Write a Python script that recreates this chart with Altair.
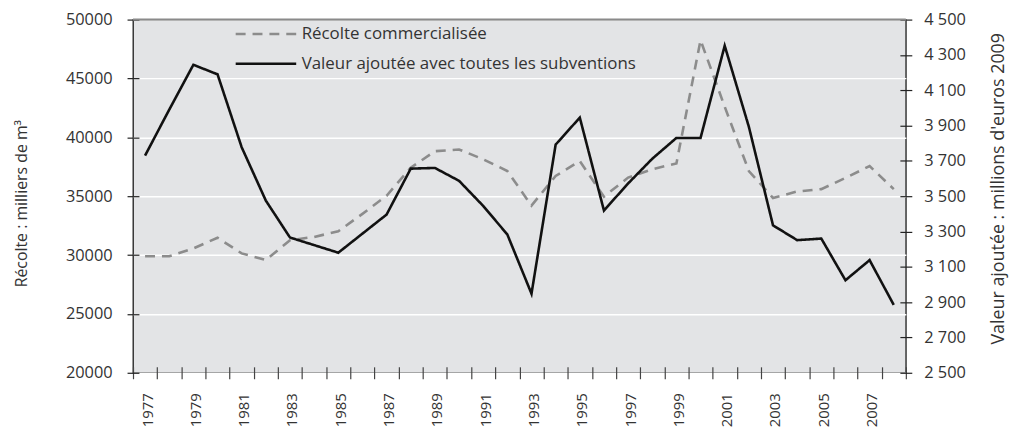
import altair as alt
import pandas as pd

years = list(range(1977, 2009))
recolte = [29900, 29900, 30560, 31470, 30140, 29580, 31260, 31540, 32020, 33500,
           35040, 37420, 38820, 38970, 38130, 37140, 34200, 36720, 37980, 34960,
           36580, 37290, 37780, 48250, 42600, 37140, 34850, 35400, 35600, 36550,
           37560, 35600]
valeur = [3730, 3990, 4244, 4190, 3777, 3475, 3266, 3223, 3180, 3288,
          3396, 3656, 3660, 3587, 3445, 3283, 2948, 3792, 3945, 3419,
          3572, 3712, 3830, 3830, 4352, 3893, 3335, 3251, 3260, 3024,
          3138, 2884]
series_names = ["Récolte commercialisée", "Valeur ajoutée avec toutes les subventions"]
left_ticks = [20000, 25000, 30000, 35000, 40000, 45000, 50000]
right_ticks = list(range(2500, 4501, 200))

df_recolte = pd.DataFrame({"annee": years, "v": recolte, "serie": series_names[0]})
df_valeur = pd.DataFrame({"annee": years, "v": valeur, "serie": series_names[1]})

FONT = "Open Sans"
W, H = 779, 356

color_scale = alt.Scale(domain=series_names, range=["#8c8c8c", "#111111"])
dash_scale = alt.Scale(domain=series_names, range=[[10, 7], [1, 0]])

# symbol: a line drawn mostly to the left of the symbol slot (slot 20px wide)
legend = alt.Legend(
    title=None, orient="none", legendX=143, legendY=3,
    symbolType="M-5.1,0H1", symbolSize=400, symbolStrokeWidth=2.5,
    labelFont=FONT, labelFontSize=17, labelColor="#333333", labelOffset=4,
    rowPadding=10, padding=0, labelLimit=500,
)

x_enc = alt.X(
    "annee:O",
    scale=alt.Scale(type="band", paddingInner=0, paddingOuter=0),
    axis=alt.Axis(
        title=None, labelAngle=-90, labelAlign="right", labelBaseline="middle",
        labelExpr="datum.value % 2 == 1 ? datum.label : ''", labelOverlap=False,
        tickBand="extent", offset=-6, tickSize=12, domain=False, grid=False,
        labelPadding=14, labelOffset=2, labelFont=FONT, labelFontSize=15,
        labelColor="#333333", tickColor="#444444", tickWidth=1.2,
    ),
)

color_enc = alt.Color("serie:N", scale=color_scale, legend=legend)
dash_enc = alt.StrokeDash("serie:N", scale=dash_scale, legend=legend)

left_line = alt.Chart(df_recolte).mark_line(strokeWidth=2.6).encode(
    x=x_enc,
    y=alt.Y(
        "v:Q",
        scale=alt.Scale(domain=[20000, 50000], nice=False, zero=False),
        axis=alt.Axis(
            title="Récolte : milliers de m³", values=left_ticks, format="d",
            offset=-6, tickSize=12, domain=False, grid=True, gridColor="white",
            gridWidth=1.5, labelPadding=15, labelFont=FONT, labelFontSize=16.5,
            labelColor="#333333", tickColor="#222222", tickWidth=1.2,
            titleFont=FONT, titleFontSize=16, titleFontWeight="normal",
            titleColor="#333333", titlePadding=36, titleY=185,
        ),
    ),
    color=color_enc,
    strokeDash=dash_enc,
)

right_line = alt.Chart(df_valeur).mark_line(strokeWidth=2.6).encode(
    x=x_enc,
    y=alt.Y(
        "v:Q",
        scale=alt.Scale(domain=[2500, 4500], nice=False, zero=False),
        axis=alt.Axis(
            orient="right", title="Valeur ajoutée : millions d'euros 2009",
            values=right_ticks,
            labelExpr="replace(format(datum.value, ','), ',', ' ')",
            offset=-6, tickSize=12, domain=False, grid=False, labelPadding=12,
            labelFont=FONT, labelFontSize=16.5, labelColor="#333333",
            tickColor="#222222", tickWidth=1.2,
            titleFont=FONT, titleFontSize=18, titleFontWeight="normal",
            titleColor="#333333", titlePadding=42, titleAngle=270, titleY=170,
        ),
    ),
    color=color_enc,
    strokeDash=dash_enc,
)

top_border = alt.Chart(alt.Data(values=[{}])).mark_rule(
    color="#8a8a8a", strokeWidth=2
).encode(x=alt.value(0), x2=alt.value(W), y=alt.value(0))

chart = (
    alt.layer(left_line, right_line, top_border)
    .resolve_scale(y="independent")
    .properties(
        width=W, height=H,
        autosize=alt.AutoSizeParams(type="none"),
        padding={"left": 126, "top": 10, "right": 106, "bottom": 58},
    )
    .configure_view(fill="#e3e4e6", stroke="#1a1a1a", strokeWidth=1.3)
)

chart.save("out.html", embed_options={"renderer": "svg", "actions": False})
